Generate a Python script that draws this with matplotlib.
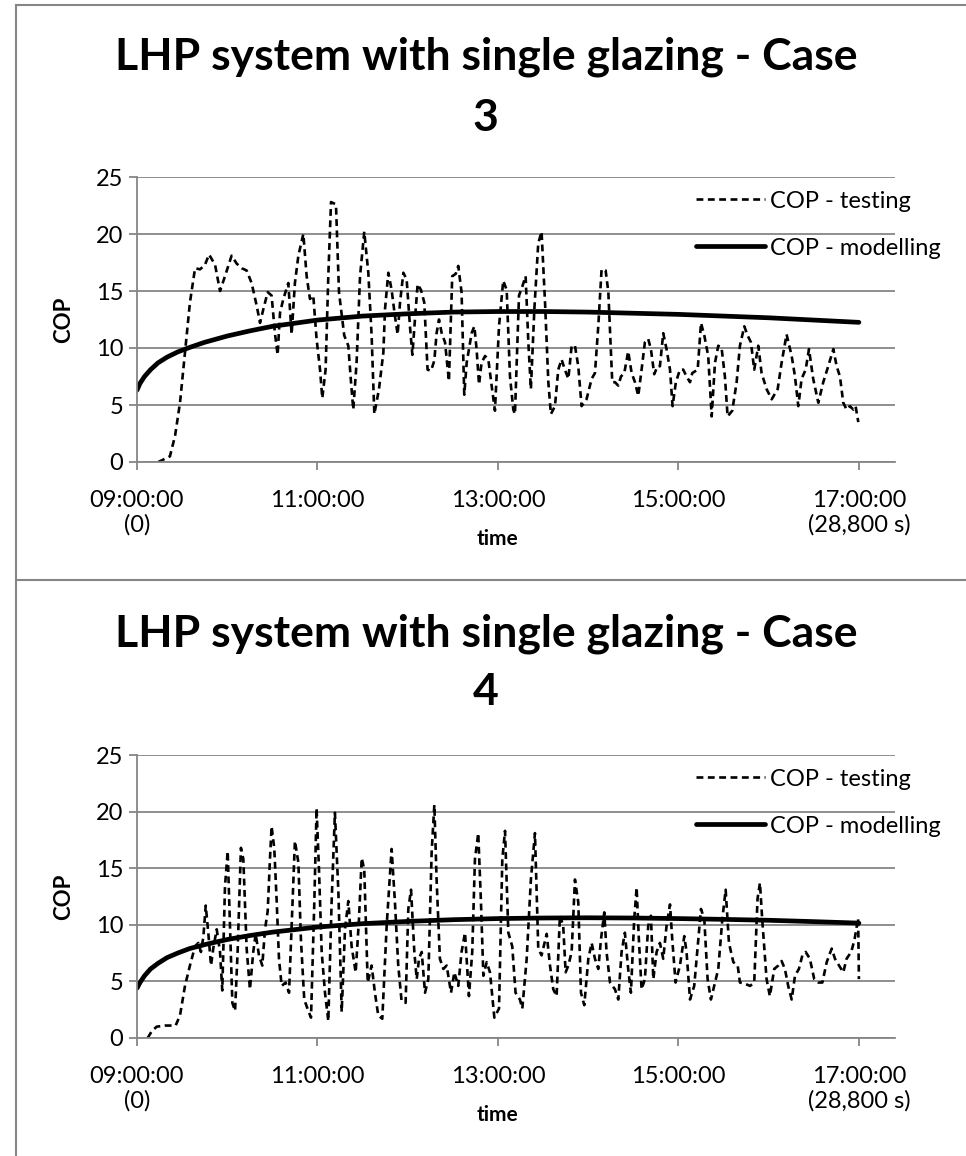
import matplotlib
matplotlib.use('Agg')
import matplotlib.pyplot as plt
from matplotlib.lines import Line2D

plt.rcParams['font.family'] = ['Lato', 'DejaVu Sans']

# Tempo em minutos depois das 09:00, COP
case3_test_min = [14.2, 21.9, 25.3, 28.6, 31.9, 35.2, 38.6, 41.9, 45.2, 47.9, 51.9, 55.2, 58.5, 62.9, 66.3,
                  69.6, 72.9, 76.2, 79.6, 81.8, 84.0, 86.9, 89.5, 91.7, 93.5, 95.1, 97.3, 100.6, 102.8, 105.0,
                  107.3, 110.6, 112.8, 115.0, 117.2, 119.4, 121.7, 123.2, 125.4, 127.2, 129.0, 132.3, 134.3,
                  137.8, 140.5, 142.3, 143.8, 146.0, 148.3, 151.1, 153.8, 156.0, 157.8,
                  160.9, 163.8, 164.9, 167.1, 169.3, 171.5, 173.3, 174.9, 177.1, 179.3, 181.5, 183.1, 184.8,
                  186.6, 188.8, 191.0, 193.2, 195.5, 197.7, 199.2, 200.8, 202.6, 204.8, 207.4, 209.6, 211.9,
                  213.6, 215.8, 217.6, 219.2, 222.5, 224.3, 225.8, 227.4, 229.1, 231.4, 233.6, 235.8, 238.0,
                  240.7, 243.5, 245.8, 248.0, 250.2, 251.3, 254.0, 256.2, 258.4, 260.2, 261.9, 264.2, 266.8,
                  269.0, 271.3, 273.5, 275.2, 277.9, 280.1, 282.3, 284.5, 286.8, 289.0, 291.2, 293.4, 295.6,
                  298.9, 302.3, 304.5, 306.7, 308.9, 311.6, 313.4, 316.0,
                  317.8, 320.0, 321.8, 324.0, 326.6, 328.9, 331.1, 333.3, 335.5, 337.7, 339.9, 341.7, 343.9,
                  346.1, 347.7, 349.9, 352.1, 354.4, 356.1, 358.3, 361.0, 363.2, 365.4, 367.7, 369.2, 372.8,
                  375.0, 377.2, 379.8, 382.1, 384.3, 386.5, 388.7, 390.9, 392.7, 395.8, 398.7, 400.9, 403.8,
                  406.0, 408.2, 410.4, 413.1, 415.3, 418.6, 422.0, 426.0, 428.6, 431.9, 435.3, 437.5, 439.7,
                  441.9, 444.6, 446.8, 449.6, 453.0, 456.3, 459.6, 463.0, 465.2, 467.4, 469.6, 471.8, 474.0,
                  476.3, 477.8, 479.6]
case3_test_cop = [0.0, 0.5, 2.3, 5.2, 9.6, 14.0, 17.0, 16.9, 17.3, 18.2, 17.3, 15.0, 16.3, 18.1, 17.4,
                  17.0, 16.8, 15.7, 13.7, 12.2, 13.4, 14.9, 14.6, 11.3, 9.4, 13.1, 14.3, 15.7, 11.2, 15.7,
                  18.1, 20.0, 16.3, 14.3, 14.6, 10.8, 8.1, 5.6, 8.1, 16.3, 22.8, 22.6, 14.9,
                  11.1, 10.2, 7.0, 4.6, 8.7, 16.3, 20.2, 16.6, 11.1, 4.2,
                  6.4, 9.6, 13.4, 16.6, 15.1, 12.8, 11.2, 14.0, 16.6, 16.0, 11.9, 9.4, 12.5,
                  15.6, 15.1, 14.0, 8.1, 8.0, 8.9, 11.3, 12.5, 11.3, 10.5, 7.1, 16.3, 16.5,
                  17.2, 14.9, 5.9, 8.7, 11.3, 11.9, 9.9, 6.8, 8.7, 9.3, 9.0, 6.7, 4.5,
                  11.9, 15.9, 15.1, 7.5, 4.6, 4.2, 14.6, 15.4, 16.3, 10.5, 6.4, 13.4, 19.2,
                  20.2, 14.0, 7.0, 4.2, 4.9, 8.1, 9.0, 8.1, 7.3, 10.2, 10.2, 8.4, 4.9,
                  5.5, 7.3, 7.8, 11.9, 16.9, 16.8, 14.9, 7.0,
                  7.0, 6.7, 7.5, 7.8, 9.7, 7.8, 7.0, 5.8, 8.1, 10.5, 10.8, 9.9, 7.7,
                  8.4, 8.4, 11.3, 9.9, 8.1, 4.9, 7.0, 8.1, 8.1, 7.5, 7.0, 7.8, 8.1,
                  12.2, 11.1, 9.3, 4.0, 8.7, 10.2, 10.0, 7.5, 4.0, 4.5, 7.0, 10.2, 11.9,
                  11.1, 10.5, 8.1, 10.2, 7.8, 6.4, 5.5, 6.4, 8.7, 11.2, 9.3, 7.5, 4.9,
                  7.3, 8.1, 9.9, 7.3, 5.2, 7.0, 8.4, 9.9, 8.4, 7.5, 5.2, 4.6, 4.9,
                  4.6, 4.9, 3.5]

case4_test_min = [7.1, 9.8, 13.1, 18.6, 25.7, 28.6, 31.9, 35.2, 38.6, 40.8, 42.5, 44.1, 45.7, 47.4, 49.2,
                  50.7, 53.0, 55.2, 56.7, 58.5, 60.3, 61.8, 63.4, 65.2, 66.9, 69.1, 70.7, 72.9, 75.1, 77.3,
                  78.9, 81.1, 83.3, 85.1, 86.9, 88.4, 89.5, 91.3, 92.9, 94.4, 96.2, 98.8, 101.1, 102.8,
                  105.0, 107.3, 109.0, 111.2, 113.9, 115.7, 117.9, 119.4, 121.0, 122.8, 125.0, 127.2, 129.4,
                  131.6, 133.9, 136.1, 138.3, 140.5, 142.7, 145.4, 147.6, 149.4, 151.1, 153.4, 156.0,
                  158.2, 160.4, 163.1, 166.0, 169.3, 171.5, 173.7, 175.9, 178.6, 180.4, 182.2, 184.4, 186.0,
                  187.5, 189.3, 191.5, 193.7, 195.9, 197.7, 199.2, 201.4, 203.7, 205.9, 208.8, 211.0, 213.6,
                  215.8, 218.1, 220.7, 222.9, 224.7, 226.9, 228.7, 230.3, 232.5, 234.7, 237.6, 240.7, 242.9,
                  244.7, 246.9, 249.5, 251.7, 254.6, 256.2, 259.1, 261.9, 264.6, 266.8, 269.0, 272.4, 274.6,
                  276.8, 279.0, 281.2, 283.4, 285.0, 286.8, 289.0, 291.2, 293.4, 295.2, 297.4, 300.1, 302.3,
                  304.5, 306.7, 308.5, 310.7, 312.2, 314.5,
                  317.8, 320.0, 322.2, 324.4, 326.6, 328.4, 330.6, 332.2, 333.7, 335.5, 337.7, 339.9, 341.7,
                  343.3, 345.5, 347.7, 349.9, 352.1, 354.4, 355.9, 358.1, 361.0, 363.9, 365.4, 367.7, 370.5,
                  373.2, 375.0, 377.2, 379.4, 381.6, 384.3, 386.5, 389.2, 391.4, 393.6, 396.5, 399.4, 400.9,
                  404.2, 407.6, 410.4, 412.6, 414.2, 415.7, 418.6, 420.8, 423.7, 426.4, 428.6, 430.8, 433.0,
                  435.3, 437.5, 440.1, 442.4, 444.6, 447.4, 450.3, 453.0, 455.7, 458.6, 461.9, 464.1, 466.8,
                  469.6, 471.8, 474.9, 477.1, 478.6, 479.5, 480.0]
case4_test_cop = [0.0, 0.6, 1.0, 1.1, 1.1, 2.0, 4.6, 6.4, 8.1, 8.4, 7.6, 8.9, 11.7, 9.3, 6.4,
                  7.9, 9.6, 7.6, 4.2, 13.4, 16.5, 9.9, 3.1, 2.4, 7.6, 16.8, 15.8, 7.9, 4.3, 7.6,
                  9.2, 7.3, 6.4, 9.6, 11.2, 15.8, 18.7, 16.7, 12.0, 7.0, 4.6, 4.9, 4.0, 9.9,
                  17.4, 15.5, 8.7, 3.4, 2.4, 1.8, 12.0, 20.3, 14.9, 7.6, 4.0, 1.5, 12.0,
                  19.9, 12.9, 2.3, 9.6, 12.1, 8.1, 5.8, 10.5, 15.9, 14.9, 4.9, 6.4,
                  4.0, 2.0, 1.7, 9.9, 16.7, 12.0, 6.4, 3.3, 3.1, 11.4, 13.1, 7.6, 5.2,
                  7.0, 7.6, 4.0, 5.2, 16.4, 20.6, 14.0, 7.0, 6.1, 6.4, 4.0, 5.8, 4.6,
                  7.6, 9.3, 3.7, 7.6, 15.8, 18.1, 12.0, 5.5, 6.7, 5.8, 1.8, 2.6, 15.8,
                  18.3, 9.3, 8.1, 4.0, 3.4, 2.6, 7.0, 14.0, 18.1, 7.9, 7.3, 9.2, 6.4,
                  4.3, 3.7, 10.8, 9.9, 5.8, 6.4, 7.6, 14.0, 12.0, 4.0, 2.9, 7.0, 8.4,
                  7.0, 6.1, 8.7, 11.1, 7.6, 4.9,
                  4.3, 3.4, 7.6, 9.3, 6.1, 4.0, 10.5, 13.3, 8.7, 4.3, 5.2, 9.9, 10.8,
                  5.2, 7.6, 8.4, 7.0, 9.9, 11.8, 8.7, 4.9, 6.4, 9.0, 7.6, 3.4, 4.6,
                  8.7, 11.4, 10.5, 5.2, 3.4, 4.9, 6.1, 10.5, 13.1, 8.4, 6.7, 6.4, 4.9,
                  4.8, 4.6, 4.9, 12.3, 13.7, 10.5, 5.2, 3.7, 6.1, 6.4, 6.8, 6.1, 4.6,
                  3.4, 5.5, 6.1, 7.3, 7.6, 7.0, 5.2, 4.9, 4.9, 6.7, 7.9, 7.0, 6.4,
                  5.8, 7.0, 7.6, 8.7, 9.9, 10.6, 5.2]

model_min = [0, 2, 5, 9, 14, 20, 27, 35, 45, 60, 75, 90, 120, 150, 180, 210, 240, 270, 300, 330,
             360, 390, 420, 450, 480]
case3_model_cop = [6.3, 6.9, 7.5, 8.1, 8.7, 9.2, 9.65, 10.05, 10.5, 11.05, 11.5, 11.9, 12.45, 12.8,
                   13.0, 13.15, 13.2, 13.2, 13.15, 13.05, 12.95, 12.8, 12.65, 12.45, 12.25]
case4_model_cop = [4.4, 4.9, 5.5, 6.1, 6.6, 7.1, 7.5, 7.9, 8.25, 8.7, 9.05, 9.35, 9.8, 10.1, 10.3,
                   10.45, 10.55, 10.6, 10.62, 10.6, 10.55, 10.48, 10.4, 10.28, 10.15]

tick_min = [0, 120, 240, 360, 480]
tick_labels = ['09:00:00\n(0)', '11:00:00', '13:00:00', '15:00:00', '17:00:00\n(28,800 s)']

GRID = '#868686'
W, H = 966, 1156


def draw_panel(ax, t_test, cop_test, cop_model):
    # Curvas de teste (tracejada) e modelo (contínua)
    ax.plot(t_test, cop_test, color='black', lw=1.9, dashes=(2.6, 1.7), label='COP - testing')
    ax.plot(model_min, cop_model, color='black', lw=3.4, solid_capstyle='round', label='COP - modelling')

    ax.set_xlim(0, 504)
    ax.set_ylim(0, 25)
    ax.set_yticks([0, 5, 10, 15, 20, 25])
    ax.set_xticks(tick_min)
    ax.set_xticklabels(tick_labels)

    ax.tick_params(axis='both', labelsize=17, color=GRID, width=1.3, length=6)
    ax.tick_params(axis='x', pad=14)
    ax.tick_params(axis='y', pad=4)

    ax.grid(axis='y', color=GRID, lw=1.3)
    ax.set_axisbelow(True)
    for s in ['top', 'right']:
        ax.spines[s].set_visible(False)
    for s in ['left', 'bottom']:
        ax.spines[s].set_color(GRID)
        ax.spines[s].set_linewidth(1.3)

    ax.set_ylabel('COP', fontsize=16, fontweight='bold')
    ax.yaxis.set_label_coords(-0.083, 0.5)
    ax.set_xlabel('time', fontsize=15, fontweight='bold')
    ax.xaxis.set_label_coords(0.475, -0.235)

    ax.legend(loc='upper left', bbox_to_anchor=(0.737, 0.952), frameon=False, fontsize=17,
              handlelength=2.95, handletextpad=0.2, labelspacing=1.1, borderpad=0, borderaxespad=0)


fig = plt.figure(figsize=(W / 100, H / 100), dpi=100)

ax1 = fig.add_axes([137 / W, 1 - 462 / H, 758 / W, 285 / H])
draw_panel(ax1, case3_test_min, case3_test_cop, case3_model_cop)
fig.text(0.503, 1 - 87 / H, 'LHP system with single glazing - Case\n3', ha='center', va='center',
         fontsize=32, fontweight='bold', linespacing=1.65)

ax2 = fig.add_axes([137 / W, 1 - 1038 / H, 758 / W, 283 / H])
draw_panel(ax2, case4_test_min, case4_test_cop, case4_model_cop)
fig.text(0.503, 1 - 663 / H, 'LHP system with single glazing - Case\n4', ha='center', va='center',
         fontsize=32, fontweight='bold', linespacing=1.55)

# Bordas das duas áreas de gráfico (estilo Excel)
for xs, ys in [([16, 966], [5, 5]), ([16, 16], [5, 1156]), ([16, 966], [580, 580])]:
    fig.add_artist(Line2D([x / W for x in xs], [1 - y / H for y in ys], color=GRID, lw=1.5))

plt.savefig('out.png', dpi=100)
